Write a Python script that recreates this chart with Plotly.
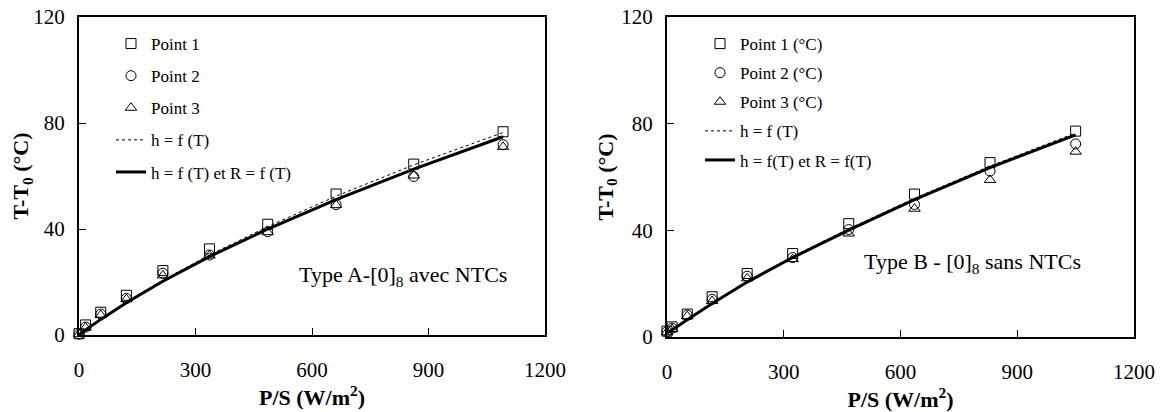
import plotly.graph_objects as go

# ---------------- data ----------------
# Chart A : Type A-[0]8 avec NTCs
x_A = [0, 17, 56, 122, 216, 336, 486, 662, 862, 1092]
p1_A = [0.5, 3.8, 8.6, 15.0, 24.3, 32.5, 41.8, 53.2, 64.5, 76.7]
p2_A = [0.3, 3.0, 7.9, 13.8, 23.3, 30.2, 39.0, 49.2, 59.8, 71.8]
p3_A = [0.3, 2.8, 7.5, 13.5, 22.5, 30.0, 38.8, 49.0, 60.2, 71.0]
hT_A = [0.0, 2.0, 6.1, 12.5, 20.7, 30.2, 40.9, 52.4, 64.2, 76.4]
hTR_A = [0.0, 1.9, 5.9, 12.2, 20.3, 29.6, 40.0, 51.1, 62.6, 74.8]

# Chart B : Type B - [0]8 sans NTCs
x_B = [0, 13, 52, 116, 206, 323, 467, 636, 830, 1050]
p1_B = [2.2, 3.8, 8.6, 15.1, 23.8, 31.3, 42.5, 53.6, 65.4, 77.2]
p2_B = [2.0, 3.3, 8.2, 14.1, 22.8, 29.8, 40.3, 49.7, 62.2, 72.4]
p3_B = [1.8, 3.0, 7.8, 13.5, 22.0, 29.2, 38.8, 48.1, 58.9, 69.5]
hT_B = [1.5, 2.7, 6.6, 12.8, 20.9, 30.2, 40.6, 52.0, 64.1, 76.5]
hTR_B = [1.5, 2.6, 6.5, 12.6, 20.6, 29.8, 40.1, 51.5, 63.5, 75.8]

names_A = ["Point 1", "Point 2", "Point 3", "h = f (T)", "h = f (T) et R = f (T)"]
names_B = ["Point 1 (°C)", "Point 2 (°C)", "Point 3 (°C)", "h = f (T)", "h = f(T) et R = f(T)"]

x_ticks = [0, 300, 600, 900, 1200]
y_ticks = [0, 40, 80, 120]

FONT = "Times New Roman, Liberation Serif, DejaVu Serif, serif"

fig = go.Figure()

symbols = ["square-open", "circle-open", "triangle-up-open"]


def add_panel(x, pts, hT, hTR, names, xa, ya, leg):
    for i, (y, sym) in enumerate(zip(pts, symbols)):
        fig.add_trace(go.Scatter(
            x=x, y=y, mode="markers", name=names[i], xaxis=xa, yaxis=ya,
            legend=leg, legendgroup=f"{leg}{i}", cliponaxis=False,
            marker=dict(symbol=sym, size=10, color="black",
                        line=dict(color="black", width=1))))
    fig.add_trace(go.Scatter(
        x=x, y=hT, mode="lines", name=names[3], xaxis=xa, yaxis=ya,
        legend=leg, legendgroup=f"{leg}3",
        line=dict(color="black", width=1, dash="dot")))
    fig.add_trace(go.Scatter(
        x=x, y=hTR, mode="lines", name=names[4], xaxis=xa, yaxis=ya,
        legend=leg, legendgroup=f"{leg}4",
        line=dict(color="black", width=3)))


add_panel(x_A, [p1_A, p2_A, p3_A], hT_A, hTR_A, names_A, "x", "y", "legend")
add_panel(x_B, [p1_B, p2_B, p3_B], hT_B, hTR_B, names_B, "x2", "y2", "legend2")

# page is drawn with an 8 px body margin -> figure is 8 px smaller, coordinates shifted
OFF = 8
W, H = 1163 - OFF, 412 - OFF


def px_x(p):
    return (p - OFF) / W


def px_y(p):
    return (H - (p - OFF)) / H


axis_common = dict(
    showline=True, linecolor="black", linewidth=2, mirror=True,
    ticks="inside", ticklen=7, tickcolor="black", tickwidth=1,
    showgrid=False, zeroline=False, automargin=False,
    ticklabeloverflow="allow",
    tickfont=dict(family=FONT, size=21, color="black"),
)

xaxis_common = dict(axis_common, range=[0, 1200], tickvals=x_ticks,
                    ticklabelstandoff=15,
                    title=dict(text="<b>P/S (W/m<sup>2</sup>)</b>", standoff=2,
                               font=dict(family=FONT, size=22, color="black")))
yaxis_common = dict(axis_common, range=[0, 120], tickvals=y_ticks,
                    ticklabelstandoff=8,
                    title=dict(text="<b>T-T<sub>0</sub> (°C)</b>", standoff=2,
                               font=dict(family=FONT, size=22, color="black")))

fig.update_layout(
    width=W, height=H,
    margin=dict(l=0, r=0, t=0, b=0),
    paper_bgcolor="white", plot_bgcolor="white",
    font=dict(family=FONT, color="black"),
    xaxis=dict(xaxis_common, domain=[px_x(79), px_x(545)], anchor="y"),
    yaxis=dict(yaxis_common, domain=[px_y(335), px_y(17)], anchor="x"),
    xaxis2=dict(xaxis_common, domain=[px_x(667), px_x(1134)], anchor="y2"),
    yaxis2=dict(yaxis_common, domain=[px_y(337), px_y(17)], anchor="x2"),
    legend=dict(x=px_x(111), y=px_y(26), xanchor="left", yanchor="top",
                bgcolor="rgba(0,0,0,0)", tracegroupgap=7,
                font=dict(family=FONT, size=17, color="black")),
    legend2=dict(x=px_x(700), y=px_y(26), xanchor="left", yanchor="top",
                 bgcolor="rgba(0,0,0,0)", tracegroupgap=4,
                 font=dict(family=FONT, size=17, color="black")),
    annotations=[
        dict(x=835, y=22.3, xref="x", yref="y", showarrow=False,
             text="Type A-[0]<sub>8</sub> avec NTCs",
             font=dict(family=FONT, size=22, color="black")),
        dict(x=785, y=27.7, xref="x2", yref="y2", showarrow=False,
             text="Type B - [0]<sub>8</sub> sans NTCs",
             font=dict(family=FONT, size=22, color="black")),
    ],
)

fig.write_html("out.html")
